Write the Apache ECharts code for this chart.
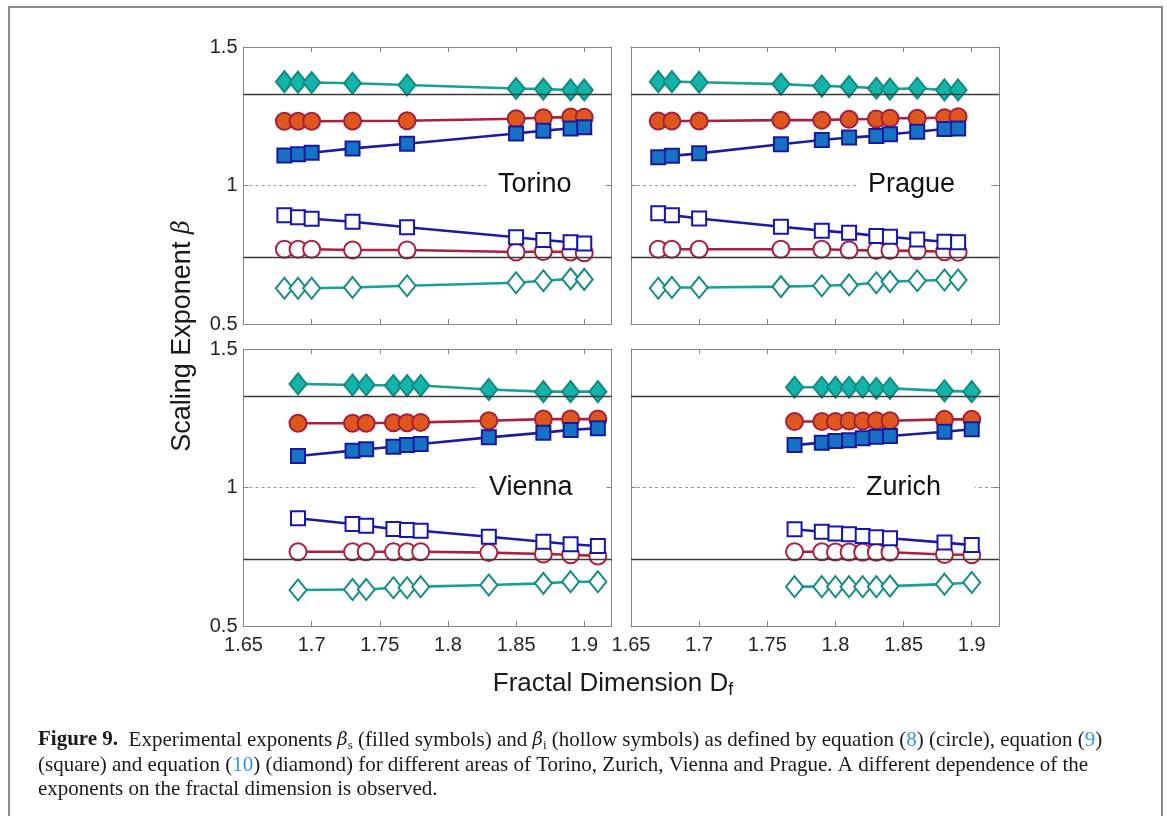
<!DOCTYPE html>
<html><head><meta charset="utf-8">
<script src="https://cdn.jsdelivr.net/npm/echarts@6/dist/echarts.min.js"></script>
<style>html,body{margin:0;padding:0;background:#fff}#c{width:1167px;height:816px}</style>
</head><body><div id="c"></div>
<script>
// ---------------- data ----------------
const xTicks = [1.65, 1.7, 1.75, 1.8, 1.85, 1.9];
const yTicks = [0.5, 1, 1.5];
const refLines = [1.333, 0.742];

const torinoX        = [1.68, 1.69, 1.70, 1.73, 1.77, 1.85, 1.87, 1.89, 1.90];
const torinoCircleS  = [1.232, 1.232, 1.232, 1.233, 1.234, 1.241, 1.245, 1.247, 1.246];
const torinoSquareS  = [1.108, 1.113, 1.118, 1.134, 1.151, 1.188, 1.198, 1.206, 1.210];
const torinoDiamondS = [1.375, 1.373, 1.372, 1.369, 1.363, 1.350, 1.348, 1.345, 1.345];
const torinoCircleI  = [0.770, 0.770, 0.770, 0.767, 0.767, 0.760, 0.762, 0.760, 0.757];
const torinoSquareI  = [0.893, 0.885, 0.880, 0.869, 0.849, 0.813, 0.803, 0.795, 0.791];
const torinoDiamondI = [0.629, 0.629, 0.629, 0.632, 0.638, 0.649, 0.656, 0.663, 0.661];

const pragueX        = [1.67, 1.68, 1.70, 1.76, 1.79, 1.81, 1.83, 1.84, 1.86, 1.88, 1.89];
const pragueCircleS  = [1.233, 1.233, 1.233, 1.236, 1.236, 1.239, 1.240, 1.243, 1.243, 1.245, 1.248];
const pragueSquareS  = [1.102, 1.107, 1.116, 1.149, 1.164, 1.173, 1.179, 1.185, 1.194, 1.204, 1.206];
const pragueDiamondS = [1.375, 1.375, 1.373, 1.366, 1.359, 1.357, 1.351, 1.348, 1.351, 1.345, 1.345];
const pragueCircleI  = [0.770, 0.770, 0.770, 0.770, 0.770, 0.767, 0.765, 0.765, 0.764, 0.761, 0.759];
const pragueSquareI  = [0.900, 0.893, 0.881, 0.851, 0.837, 0.829, 0.818, 0.815, 0.805, 0.797, 0.795];
const pragueDiamondI = [0.629, 0.632, 0.632, 0.635, 0.638, 0.641, 0.649, 0.653, 0.656, 0.659, 0.659];

const viennaX        = [1.69, 1.73, 1.74, 1.76, 1.77, 1.78, 1.83, 1.87, 1.89, 1.91];
const viennaCircleS  = [1.232, 1.232, 1.232, 1.234, 1.234, 1.235, 1.241, 1.247, 1.247, 1.247];
const viennaSquareS  = [1.114, 1.133, 1.138, 1.147, 1.153, 1.157, 1.181, 1.198, 1.208, 1.214];
const viennaDiamondS = [1.374, 1.370, 1.370, 1.368, 1.368, 1.368, 1.354, 1.346, 1.346, 1.346];
const viennaCircleI  = [0.768, 0.768, 0.768, 0.768, 0.768, 0.768, 0.765, 0.760, 0.757, 0.753];
const viennaSquareI  = [0.889, 0.868, 0.862, 0.850, 0.847, 0.844, 0.822, 0.804, 0.795, 0.789];
const viennaDiamondI = [0.630, 0.632, 0.632, 0.638, 0.638, 0.642, 0.648, 0.654, 0.660, 0.660];

const zurichX        = [1.77, 1.79, 1.80, 1.81, 1.82, 1.83, 1.84, 1.88, 1.90];
const zurichCircleS  = [1.238, 1.238, 1.238, 1.240, 1.240, 1.241, 1.241, 1.246, 1.246];
const zurichSquareS  = [1.153, 1.162, 1.168, 1.171, 1.178, 1.183, 1.186, 1.201, 1.210];
const zurichDiamondS = [1.362, 1.362, 1.362, 1.362, 1.362, 1.358, 1.358, 1.349, 1.346];
const zurichCircleI  = [0.768, 0.768, 0.767, 0.767, 0.766, 0.766, 0.766, 0.758, 0.757];
const zurichSquareI  = [0.849, 0.840, 0.834, 0.831, 0.825, 0.820, 0.817, 0.801, 0.792];
const zurichDiamondI = [0.642, 0.642, 0.642, 0.642, 0.642, 0.642, 0.644, 0.651, 0.657];

const panelNames = ['Torino', 'Prague', 'Vienna', 'Zurich'];

// ---------------- layout / style ----------------
const panels = [
  {x: torinoX, s: [torinoCircleS, torinoSquareS, torinoDiamondS], i: [torinoCircleI, torinoSquareI, torinoDiamondI]},
  {x: pragueX, s: [pragueCircleS, pragueSquareS, pragueDiamondS], i: [pragueCircleI, pragueSquareI, pragueDiamondI]},
  {x: viennaX, s: [viennaCircleS, viennaSquareS, viennaDiamondS], i: [viennaCircleI, viennaSquareI, viennaDiamondI]},
  {x: zurichX, s: [zurichCircleS, zurichSquareS, zurichDiamondS], i: [zurichCircleI, zurichSquareI, zurichDiamondI]}
];
const gridRects = [
  {left: 243.5, top: 47}, {left: 631, top: 47},
  {left: 243.5, top: 349}, {left: 631, top: 349}
];
const GW = 368, GH = 277;
const X_MIN = 1.65, X_MAX = 1.92;
const frameColor = '#858585';
const labelColor = '#262626';
const SANS = '"Liberation Sans", Arial, Helvetica, sans-serif';
const SERIF = '"Liberation Serif", "Times New Roman", serif';

const styles = [
  // circle
  {symbol: 'circle', size: 17, line: '#ad1f3c', fillS: '#e0571d', borderS: '#a81f3b', borderI: '#b0203d'},
  // square
  {symbol: 'rect', size: 14, line: '#1c1ca3', fillS: '#1672c2', borderS: '#1818a0', borderI: '#1515b5'},
  // diamond
  {symbol: 'diamond', size: [17, 21], line: '#17a198', fillS: '#14b4aa', borderS: '#0f8c83', borderI: '#128d86'}
];

function fmtX(v) {
  return xTicks.some(t => Math.abs(t - v) < 1e-9) ? String(+v.toFixed(2)) : '';
}
function fmtY(v) {
  return yTicks.some(t => Math.abs(t - v) < 1e-9) ? String(+v.toFixed(2)) : '';
}

const grid = [], xAxis = [], yAxis = [], series = [];
gridRects.forEach((r, gi) => {
  grid.push({left: r.left, top: r.top, width: GW, height: GH, containLabel: false});
  const showX = gi >= 2, showY = gi % 2 === 0;
  const lineCfg = {show: true, onZero: false, lineStyle: {color: frameColor, width: 1}};
  const tickCfg = {show: true, inside: true, length: 5, lineStyle: {color: frameColor, width: 1}};
  ['bottom', 'top'].forEach((pos, k) => {
    xAxis.push({
      gridIndex: gi, type: 'value', position: pos, min: X_MIN, max: X_MAX, interval: 0.05,
      axisLine: lineCfg, axisTick: tickCfg,
      axisLabel: {show: showX && k === 0, margin: 9, color: labelColor, fontSize: 20, fontFamily: SANS, formatter: fmtX},
      splitLine: {show: false}
    });
  });
  ['left', 'right'].forEach((pos, k) => {
    yAxis.push({
      gridIndex: gi, type: 'value', position: pos, min: 0.5, max: 1.5, interval: 0.5,
      axisLine: lineCfg, axisTick: tickCfg,
      axisLabel: {show: showY && k === 0, margin: 6, color: labelColor, fontSize: 20, fontFamily: SANS, formatter: fmtY},
      splitLine: {show: k === 0, lineStyle: {color: '#9a9a9a', width: 1, type: [3, 3]}}
    });
  });

  const p = panels[gi];
  [['i', false], ['s', true]].forEach(([key, filled]) => {
    styles.forEach((st, si) => {
      series.push({
        type: 'line', xAxisIndex: 2 * gi, yAxisIndex: 2 * gi,
        data: p.x.map((xv, k) => [xv, p[key][si][k]]),
        symbol: st.symbol, symbolSize: st.size, showSymbol: true, showAllSymbol: true,
        lineStyle: {color: st.line, width: 2.6},
        itemStyle: {color: filled ? st.fillS : '#ffffff', borderColor: filled ? st.borderS : st.borderI, borderWidth: 2, opacity: 1},
        emphasis: {disabled: true}, silent: true, z: 2
      });
    });
  });
  series.push({
    type: 'line', xAxisIndex: 2 * gi, yAxisIndex: 2 * gi, data: [], z: 3,
    markLine: {
      silent: true, symbol: ['none', 'none'], label: {show: false},
      lineStyle: {color: '#3a3a3a', width: 1.3, type: 'solid'},
      data: refLines.map(v => ({yAxis: v})), animation: false
    }
  });
});

const labelPos = [{x: 487, y: 185}, {x: 857, y: 185}, {x: 478, y: 487.5}, {x: 855, y: 487.5}];
const graphic = [
  {type: 'rect', shape: {x: 9, y: 7, width: 1153, height: 830}, style: {fill: 'none', stroke: '#8c8c8c', lineWidth: 2}, z: 0, silent: true}
];
panelNames.forEach((nm, k) => {
  graphic.push({
    type: 'text', x: labelPos[k].x, y: labelPos[k].y, z: 50, silent: true,
    style: {text: nm, font: '27px ' + SANS, fill: '#111', verticalAlign: 'middle', align: 'left',
      backgroundColor: '#fff', padding: [4, 34, 4, 11]}
  });
});
graphic.push({
  type: 'text', x: 183, y: 336, rotation: Math.PI / 2, z: 50, silent: true,
  style: {text: 'Scaling Exponent {g|β}', font: '27px ' + SANS, fill: '#1a1a1a', align: 'center', verticalAlign: 'middle',
    rich: {g: {fontFamily: 'DejaVu Serif', fontStyle: 'italic', fontSize: 24, fill: '#1a1a1a'}}}
});
graphic.push({
  type: 'text', x: 613, y: 684, z: 50, silent: true,
  style: {text: 'Fractal Dimension D{sub|f}', font: '26px ' + SANS, fill: '#1a1a1a', align: 'center', verticalAlign: 'middle',
    lineHeight: 30,
    rich: {sub: {fontSize: 18, fontFamily: 'Liberation Sans', verticalAlign: 'bottom', lineHeight: 8, fill: '#1a1a1a'}}}
});
const capRich = {
  b: {fontWeight: 'bold', fontFamily: 'Liberation Serif', fontSize: 21, fill: '#1a1a1a'},
  g: {fontStyle: 'italic', fontFamily: 'DejaVu Serif', fontSize: 18, fill: '#1a1a1a'},
  sub: {fontFamily: 'Liberation Serif', fontSize: 13, verticalAlign: 'bottom', lineHeight: 9, fill: '#1a1a1a'},
  l: {fontFamily: 'Liberation Serif', fontSize: 21, fill: '#2a9ad8'}
};
const capLines = [
  '{b|Figure 9.}  Experimental exponents {g|β}{sub|s} (filled symbols) and {g|β}{sub|i} (hollow symbols) as defined by equation ({l|8}) (circle), equation ({l|9})',
  '(square) and equation ({l|10}) (diamond) for different areas of Torino, Zurich, Vienna and Prague. A different dependence of the',
  'exponents on the fractal dimension is observed.'
];
const capY = [740, 765, 789];
capLines.forEach((t, k) => {
  graphic.push({
    type: 'text', x: 38, y: capY[k], z: 50, silent: true,
    style: {text: t, font: '21px ' + SERIF, fill: '#1a1a1a', align: 'left', verticalAlign: 'middle', lineHeight: 24, rich: capRich}
  });
});

const chart = echarts.init(document.getElementById('c'), null, {renderer: 'canvas'});
chart.setOption({animation: false, backgroundColor: '#fff', grid, xAxis, yAxis, series, graphic});
</script>
</body></html>
